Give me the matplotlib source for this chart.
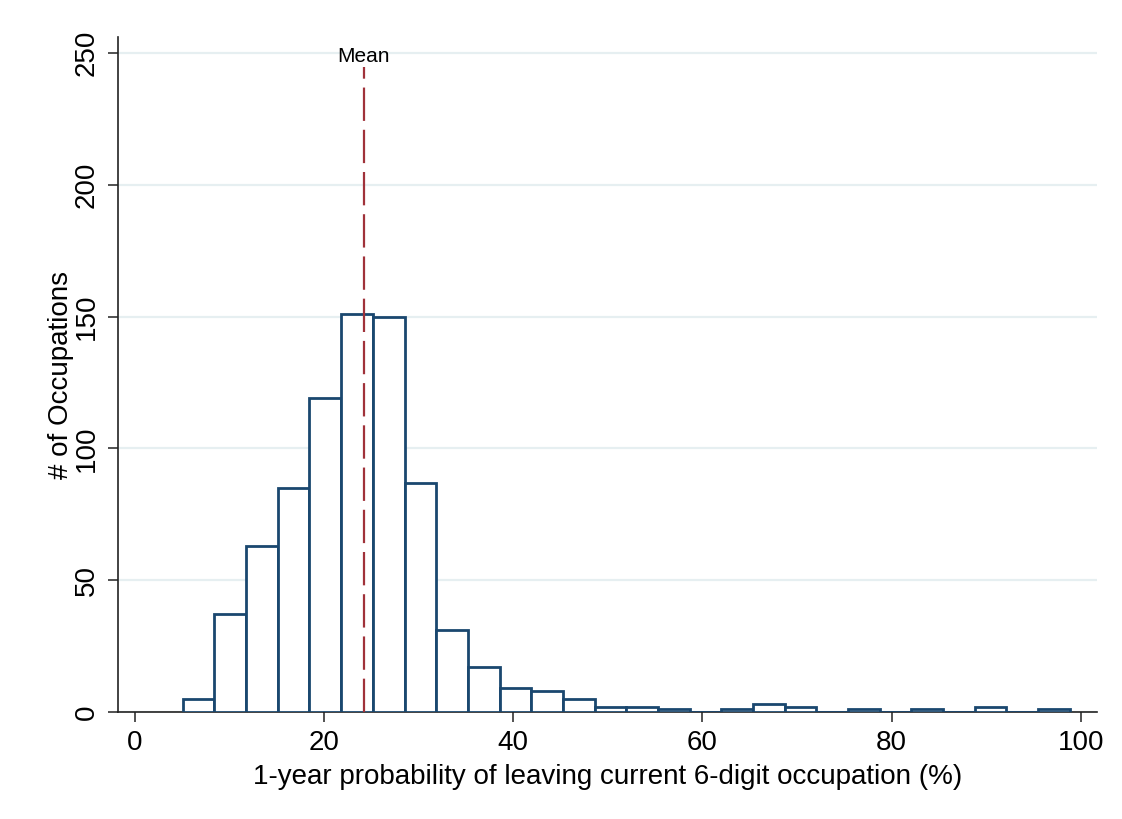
import matplotlib.pyplot as plt
import numpy as np

plt.rcParams["font.family"] = ["Liberation Sans", "DejaVu Sans"]

# histogram counts, 28 equal bins between the min and max of the variable
counts = [5, 37, 63, 85, 119, 151, 150, 87, 31, 17, 9, 8, 5, 2,
          2, 1, 0, 1, 3, 2, 0, 1, 0, 1, 0, 2, 0, 1]
x_min = 5.1
x_max = 98.8
mean_val = 24.2

edges = np.linspace(x_min, x_max, len(counts) + 1)
width = edges[1] - edges[0]

fig = plt.figure(figsize=(11.22, 8.19), dpi=100)
ax = fig.add_axes([0.105, 0.1306, 0.8727, 0.8242])

ax.bar(edges[:-1], counts, width=width, align="edge",
       facecolor="white", edgecolor="#1a476f", linewidth=2.0, zorder=3)

# mean line stops just under the label
ax.axvline(mean_val, ymax=244.5 / 256, color="#a0323a", linewidth=1.6,
           dashes=(15, 4), zorder=4)
ax.text(mean_val, 248.5, "Mean", ha="center", va="center", fontsize=15, zorder=5)

ax.set_xlim(-1.77, 101.7)
ax.set_ylim(0, 256)
ax.set_xticks([0, 20, 40, 60, 80, 100])
ax.set_yticks([0, 50, 100, 150, 200, 250])
ax.set_yticklabels(["0", "50", "100", "150", "200", "250"], rotation=90, va="center")
ax.grid(axis="y", color="#e6eff1", linewidth=1.6, zorder=0)
ax.set_axisbelow(True)

for side in ["top", "right"]:
    ax.spines[side].set_visible(False)
for side in ["left", "bottom"]:
    ax.spines[side].set_linewidth(1.2)
    ax.spines[side].set_color("#222222")

ax.tick_params(axis="both", length=7, width=1.2, color="#333333",
               labelsize=20, pad=6)

ax.set_xlabel("1-year probability of leaving current 6-digit occupation (%)",
              fontsize=20, labelpad=6)
ax.set_ylabel("# of Occupations", fontsize=20, labelpad=0)

fig.savefig("out.png", dpi=100)
